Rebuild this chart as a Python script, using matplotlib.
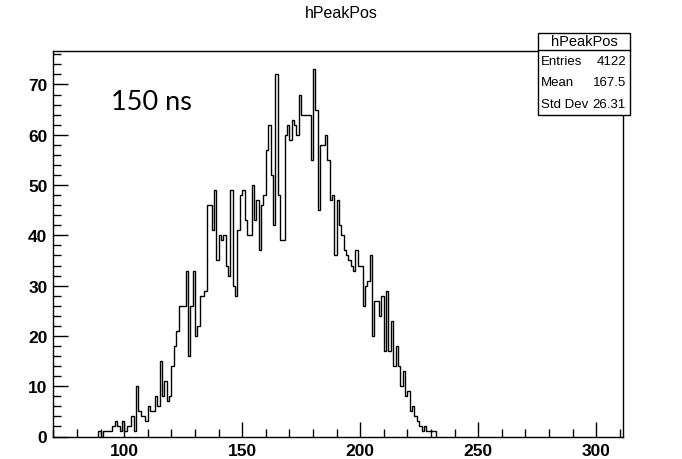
import numpy as np
import matplotlib
matplotlib.use("Agg")
import matplotlib.pyplot as plt
from matplotlib.patches import Rectangle
from matplotlib.lines import Line2D
from matplotlib.ticker import MultipleLocator

# Histogram contents: one count per 1 ns bin, first bin starting at 89 ns
first_bin = 89
counts = [
    1, 0, 1, 1, 1, 1, 2, 3, 2, 1, 3,              # 89-99
    1, 2, 2, 4, 1, 10, 5, 4, 4, 3,                # 100-109
    6, 5, 5, 8, 6, 15, 8, 11, 7, 8,               # 110-119
    14, 18, 21, 26, 26, 26, 33, 16, 26, 33,       # 120-129
    20, 22, 28, 28, 29, 46, 46, 41, 49, 35,       # 130-139
    40, 39, 40, 34, 32, 49, 30, 28, 41, 48,       # 140-149
    49, 43, 40, 40, 50, 43, 47, 37, 46, 48,       # 150-159
    57, 62, 52, 42, 72, 48, 39, 39, 60, 62,       # 160-169
    59, 63, 62, 60, 68, 64, 64, 64, 64, 55,       # 170-179
    73, 65, 45, 58, 58, 60, 55, 47, 48, 36,       # 180-189
    47, 42, 40, 37, 36, 35, 34, 33, 37, 34,       # 190-199
    34, 26, 30, 31, 36, 20, 27, 27, 24, 28,       # 200-209
    17, 29, 17, 23, 14, 18, 14, 10, 13, 8,        # 210-219
    9, 5, 6, 4, 3, 2, 1, 2, 1, 1, 1, 1,           # 220-231
]

hist_name = "hPeakPos"
stat_names = ["Entries", "Mean", "Std Dev"]
stat_values = ["4122", "167.5", "26.31"]
note_text = "150 ns"

x_range = (69.8, 311.4)
y_range = (0, 76.65)

W, H = 682, 460
fig = plt.figure(figsize=(W / 100, H / 100), dpi=100)
fig.patch.set_facecolor("white")


def fx(px):
    return px / W


def fy(py):
    return 1 - py / H


ax = fig.add_axes([fx(53), fy(437.5), fx(623) - fx(53), fy(52) - fy(437.5)])

edges = np.arange(first_bin, first_bin + len(counts) + 1)
ax.stairs(counts, edges, baseline=0, color="black", linewidth=1.0)

ax.set_xlim(*x_range)
ax.set_ylim(*y_range)

for side in ["left", "right", "top", "bottom"]:
    ax.spines[side].set_linewidth(1.0)
    ax.spines[side].set_color("black")

ax.xaxis.set_major_locator(MultipleLocator(50))
ax.xaxis.set_minor_locator(MultipleLocator(10))
ax.yaxis.set_major_locator(MultipleLocator(10))
ax.yaxis.set_minor_locator(MultipleLocator(2))
ax.tick_params(which="both", direction="in", top=False, right=False, width=1.0)
ax.tick_params(which="major", axis="x", length=11, pad=5)
ax.tick_params(which="minor", axis="x", length=6)
ax.tick_params(which="major", axis="y", length=11, pad=4)
ax.tick_params(which="minor", axis="y", length=6)
for lab in ax.get_xticklabels() + ax.get_yticklabels():
    lab.set_fontfamily("Liberation Sans")
    lab.set_fontweight("bold")
    lab.set_fontsize(12.5)

# Title
fig.text(0.5, fy(13), hist_name, ha="center", va="center",
         fontfamily="Liberation Sans", fontsize=11.5)

# Annotation inside the frame
fig.text(fx(111), fy(103), note_text, ha="left", va="center",
         fontfamily="Lato", fontsize=19.5)

# Statistics box
bx0, bx1, by0, by1, bsep = 538, 630, 34, 116, 51
fig.patches.append(Rectangle((fx(bx0), fy(by1)), fx(bx1) - fx(bx0), fy(by0) - fy(by1),
                             transform=fig.transFigure, facecolor="white",
                             edgecolor="black", linewidth=1.0, zorder=5))
fig.lines.append(Line2D([fx(bx0), fx(bx1)], [fy(bsep), fy(bsep)],
                        transform=fig.transFigure, color="black", linewidth=1.0, zorder=6))
fig.text((fx(bx0) + fx(bx1)) / 2, fy((by0 + bsep) / 2), hist_name, ha="center",
         va="center", fontfamily="Liberation Sans", fontsize=10.5, zorder=7)
row_h = (by1 - bsep) / 3
for i, (name, val) in enumerate(zip(stat_names, stat_values)):
    yc = fy(bsep + row_h * (i + 0.5))
    fig.text(fx(bx0 + 3), yc, name, ha="left", va="center",
             fontfamily="Liberation Sans", fontsize=9.5, zorder=7)
    fig.text(fx(bx1 - 4), yc, val, ha="right", va="center",
             fontfamily="Liberation Sans", fontsize=9.5, zorder=7)

fig.savefig("out.png", dpi=100)
